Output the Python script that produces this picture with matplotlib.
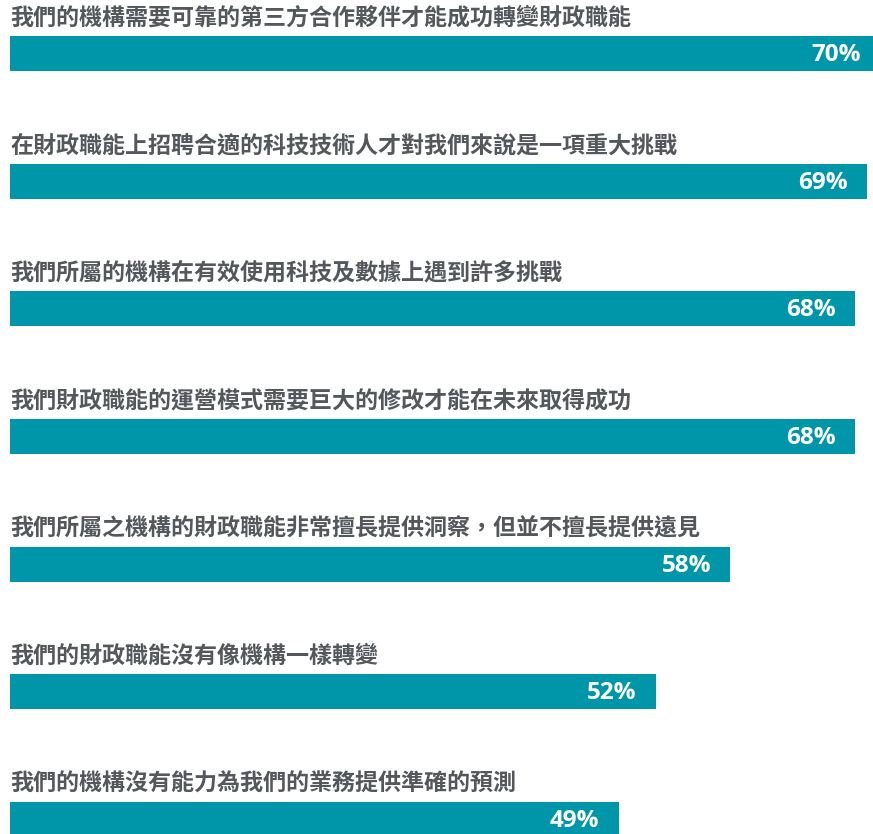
import matplotlib
matplotlib.use("Agg")
import matplotlib.pyplot as plt

labels = [
    "我們的機構需要可靠的第三方合作夥伴才能成功轉變財政職能",
    "在財政職能上招聘合適的科技技術人才對我們來說是一項重大挑戰",
    "我們所屬的機構在有效使用科技及數據上遇到許多挑戰",
    "我們財政職能的運營模式需要巨大的修改才能在未來取得成功",
    "我們所屬之機構的財政職能非常擅長提供洞察，但並不擅長提供遠見",
    "我們的財政職能沒有像機構一樣轉變",
    "我們的機構沒有能力為我們的業務提供準確的預測",
]
values = [70, 69, 68, 68, 58, 52, 49]

BAR_COLOR = "#0096a9"
TEXT_COLOR = "#54585d"

W, H = 873, 834
fig = plt.figure(figsize=(W / 100, H / 100), dpi=100)
ax = fig.add_axes([10 / W, 0, 1 - 10 / W, 1])

px_per_pct = 12.42
row_px = 127.67
bar_h = 35 / row_px

ax.barh(range(len(values)), values, height=bar_h, color=BAR_COLOR)

for i, (lab, v) in enumerate(zip(labels, values)):
    ax.text(0, i - 35.5 / row_px, lab, ha="left", va="center",
            fontsize=16.6, fontweight="bold", color=TEXT_COLOR,
            family=["Noto Sans CJK TC", "DejaVu Sans"])
    ax.text(v - 19 / px_per_pct, i + 1.5 / row_px, f"{v}%", ha="right", va="center",
            fontsize=17.5, fontweight="bold", color="white",
            family=["Open Sans", "DejaVu Sans"])

ax.set_xlim(0, (W - 10) / px_per_pct)
ax.set_ylim(6 + (H - 819.5) / row_px, -53.5 / row_px)
ax.axis("off")

fig.savefig("out.png", dpi=100, facecolor="white")
